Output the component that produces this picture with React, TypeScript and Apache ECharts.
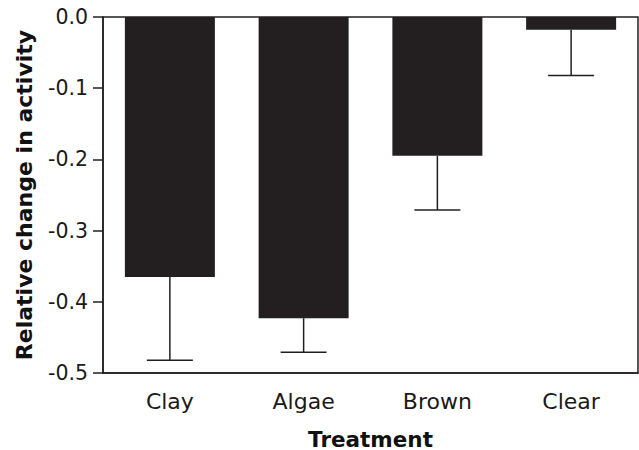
import React, { useEffect, useRef } from "react";
import * as echarts from "echarts";

const categories = ["Clay", "Algae", "Brown", "Clear"];
const means = [-0.365, -0.423, -0.195, -0.018];
const errors = [0.117, 0.048, 0.076, 0.064];
const yTicks = { min: -0.5, max: 0, interval: 0.1 };

const INK = "#231f20";
const FONT = "'DejaVu Sans', 'Liberation Sans', Arial, sans-serif";

export default function App() {
  const ref = useRef<HTMLDivElement>(null);
  useEffect(() => {
    if (!ref.current) return;
    const chart = echarts.init(ref.current, undefined, { renderer: "svg" });
    const errData = categories.map((c, i) => [i, means[i], means[i] - errors[i]]);
    chart.setOption({
      animation: false,
      backgroundColor: "#ffffff",
      grid: {
        left: 103,
        right: 1,
        top: 17,
        bottom: 77,
        outerBoundsMode: "none",
        containLabel: false,
        show: true,
        borderColor: INK,
        borderWidth: 1.5,
        backgroundColor: "transparent",
      },
      xAxis: {
        type: "category",
        data: categories,
        position: "bottom",
        name: "Treatment",
        nameLocation: "middle",
        nameGap: 57,
        nameTextStyle: {
          fontFamily: FONT,
          fontWeight: "bold",
          fontSize: 21.5,
          lineHeight: 18,
          color: "#111",
        },
        axisLine: { onZero: false, lineStyle: { color: INK, width: 1.5 } },
        axisTick: { alignWithLabel: true, length: 10, lineStyle: { color: INK, width: 1.5 } },
        axisLabel: { fontFamily: FONT, fontSize: 22, color: "#1a1a1a", margin: 17 },
        splitLine: { show: false },
      },
      yAxis: {
        type: "value",
        min: yTicks.min,
        max: yTicks.max,
        interval: yTicks.interval,
        name: "Relative change in activity",
        nameLocation: "middle",
        nameGap: 68,
        nameTextStyle: { fontFamily: FONT, fontWeight: "bold", fontSize: 22, color: "#111" },
        axisLine: { show: true, lineStyle: { color: INK, width: 1.5 } },
        axisTick: { show: true, length: 10, lineStyle: { color: INK, width: 1.5 } },
        axisLabel: {
          fontFamily: FONT,
          fontSize: 20.5,
          color: "#1a1a1a",
          margin: 15,
          formatter: (v: number) => v.toFixed(1),
        },
        splitLine: { show: false },
      },
      series: [
        {
          type: "bar",
          data: means,
          barWidth: 90,
          itemStyle: { color: INK },
          z: 2,
        },
        {
          type: "custom",
          data: errData,
          z: 3,
          renderItem: (params: any, api: any) => {
            const i = api.value(0);
            const top = api.coord([i, api.value(1)]);
            const bot = api.coord([i, api.value(2)]);
            const half = 23;
            return {
              type: "group",
              children: [
                {
                  type: "line",
                  shape: { x1: top[0], y1: top[1], x2: bot[0], y2: bot[1] },
                  style: { stroke: INK, lineWidth: 1.5 },
                },
                {
                  type: "line",
                  shape: { x1: bot[0] - half, y1: bot[1], x2: bot[0] + half, y2: bot[1] },
                  style: { stroke: INK, lineWidth: 1.5 },
                },
              ],
            };
          },
        },
      ],
    });
    return () => chart.dispose();
  }, []);
  return (
    <div
      ref={ref}
      style={{ position: "fixed", left: 0, top: 0, width: 639, height: 450 }}
    />
  );
}
